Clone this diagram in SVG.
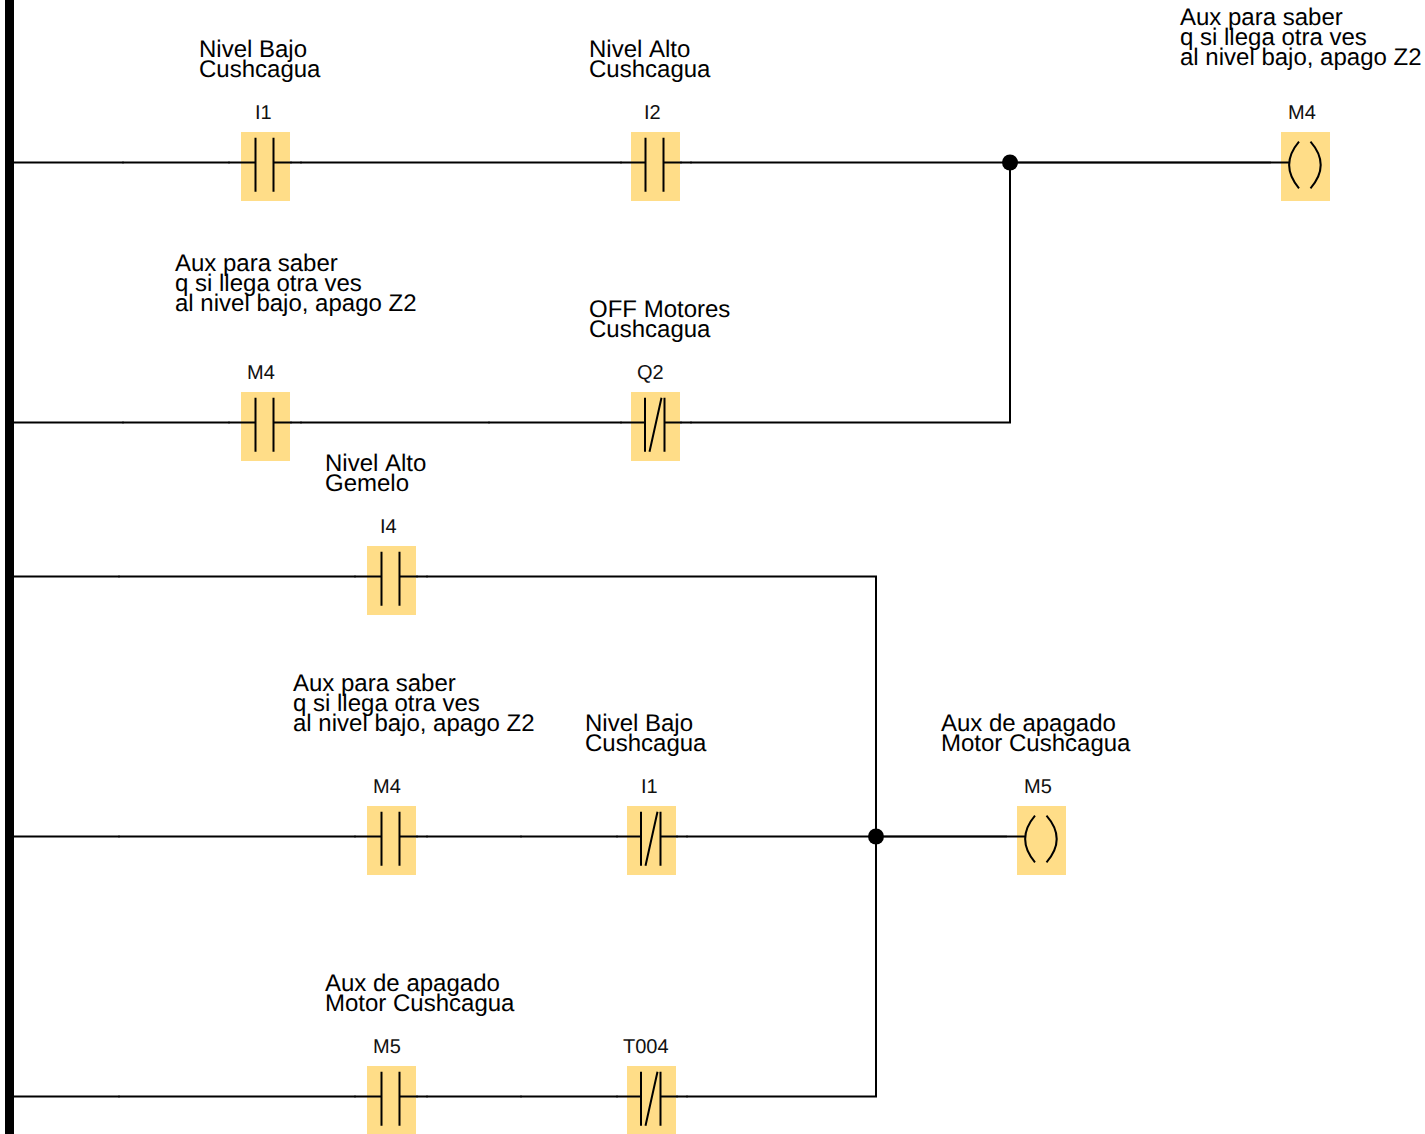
<svg xmlns="http://www.w3.org/2000/svg" width="1425" height="1134" viewBox="0 0 1425 1134">
<style>
.w{fill:none;stroke:#000;stroke-width:2}
.k{fill:none;stroke:#000;stroke-width:2;opacity:.55}
.s{fill:none;stroke:#000;stroke-width:2}
.b{fill:#ffdd88;stroke:none}
.t{font-family:"Liberation Sans",Arial,sans-serif;font-size:24px;fill:#000;font-kerning:none;text-rendering:geometricPrecision}
.l{font-family:"Liberation Sans",Arial,sans-serif;font-size:20px;fill:#111;font-kerning:none;text-rendering:geometricPrecision}
</style>
<defs>
<g id="no"><rect class="b" width="49" height="69"/><path class="s" d="M0 30.500H14.500M14.500 5.700V59.700M32.500 5.700V59.700M32.500 30.500H49"/></g>
<g id="nc"><rect class="b" width="49" height="69"/><path class="s" d="M0 30.500H14M14 5.700V59.700M33.500 5.700V59.700M33.500 30.500H49M18.500 59.700L30.500 5.700"/></g>
<g id="coil"><rect class="b" width="49" height="69"/><path class="s" d="M0 30.500H8.500M18 9.700Q-1.700 33 18 56.300M29.500 9.700Q49.900 33 29.500 56.300"/></g>
</defs>
<rect id="rail" x="5" y="0" width="9" height="1134" fill="#000"/>
<g id="n1"><use href="#no" x="241" y="132"/><text class="l" x="255" y="119">I1</text><text class="t" x="199" y="57">Nivel Bajo</text><text class="t" x="199" y="77">Cushcagua</text></g>
<g id="n2"><use href="#no" x="631" y="132"/><text class="l" x="644" y="119">I2</text><text class="t" x="589" y="57">Nivel Alto</text><text class="t" x="589" y="77">Cushcagua</text></g>
<g id="n3"><use href="#coil" x="1281" y="132"/><text class="l" x="1288" y="119">M4</text><text class="t" x="1180" y="25">Aux para saber</text><text class="t" x="1180" y="45">q si llega otra ves</text><text class="t" x="1180" y="65">al nivel bajo, apago Z2</text></g>
<g id="n4"><use href="#no" x="241" y="392"/><text class="l" x="247" y="379">M4</text><text class="t" x="175" y="271">Aux para saber</text><text class="t" x="175" y="291">q si llega otra ves</text><text class="t" x="175" y="311">al nivel bajo, apago Z2</text></g>
<g id="n5"><use href="#nc" x="631" y="392"/><text class="l" x="637" y="379">Q2</text><text class="t" x="589" y="317">OFF Motores</text><text class="t" x="589" y="337">Cushcagua</text></g>
<g id="n6"><use href="#no" x="367" y="546"/><text class="l" x="380" y="533">I4</text><text class="t" x="325" y="471">Nivel Alto</text><text class="t" x="325" y="491">Gemelo</text></g>
<g id="n7"><use href="#no" x="367" y="806"/><text class="l" x="373" y="793">M4</text><text class="t" x="293" y="691">Aux para saber</text><text class="t" x="293" y="711">q si llega otra ves</text><text class="t" x="293" y="731">al nivel bajo, apago Z2</text></g>
<g id="n8"><use href="#nc" x="627" y="806"/><text class="l" x="641" y="793">I1</text><text class="t" x="585" y="731">Nivel Bajo</text><text class="t" x="585" y="751">Cushcagua</text></g>
<g id="n9"><use href="#coil" x="1017" y="806"/><text class="l" x="1024" y="793">M5</text><text class="t" x="941" y="731">Aux de apagado</text><text class="t" x="941" y="751">Motor Cushcagua</text></g>
<g id="n10"><use href="#no" x="367" y="1066"/><text class="l" x="373" y="1053">M5</text><text class="t" x="325" y="991">Aux de apagado</text><text class="t" x="325" y="1011">Motor Cushcagua</text></g>
<g id="n11"><use href="#nc" x="627" y="1066"/><text class="l" x="623" y="1053">T004</text></g>
<g id="connectors">
<path class="w" d="M14 162.500H241M290 162.500H631M680 162.500H1281"/>
<path class="w" d="M14 422.500H241M290 422.500H631M680 422.500H1010V162.500"/>
<path class="w" d="M14 576.500H367M416 576.500H876V1096.500H676M627 1096.500H416M367 1096.500H14"/>
<path class="w" d="M14 836.500H367M416 836.500H627M676 836.500H1017"/>
<path class="k" d="M122 162.500h2M228 162.500h2M290 162.500h2M300 162.500h2M620 162.500h2M680 162.500h2M690 162.500h2M1018 162.500H1271"/>
<path class="k" d="M122 422.500h2M228 422.500h2M290 422.500h2M300 422.500h2M488 422.500h2M620 422.500h2M680 422.500h2M690 422.500h2"/>
<path class="k" d="M118 576.500h2M354 576.500h2M416 576.500h2M426 576.500h2"/>
<path class="k" d="M118 836.500h2M354 836.500h2M416 836.500h2M426 836.500h2M520 836.500h2M616 836.500h2M676 836.500h2M686 836.500h2M884 836.500H1007"/>
<path class="k" d="M118 1096.500h2M354 1096.500h2M416 1096.500h2M426 1096.500h2M520 1096.500h2M616 1096.500h2M676 1096.500h2M686 1096.500h2"/>
<circle cx="1010" cy="162.500" r="8" fill="#000"/>
<circle cx="876" cy="836.500" r="8" fill="#000"/>
</g>
</svg>
